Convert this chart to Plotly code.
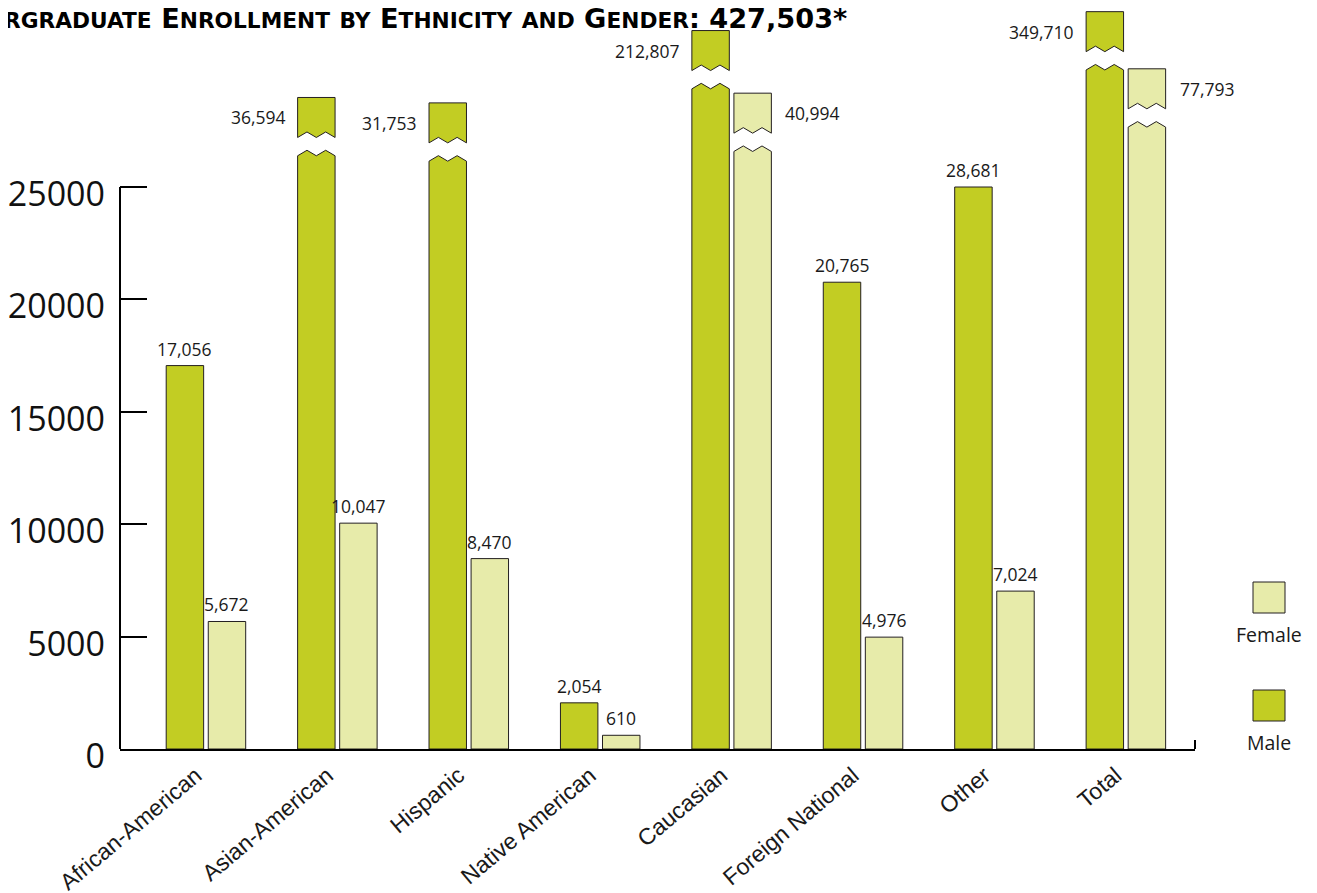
import math
import plotly.graph_objects as go

# ---------------- data ----------------
categories = ["African-American", "Asian-American", "Hispanic", "Native American",
              "Caucasian", "Foreign National", "Other", "Total"]
male_values = [17056, 36594, 31753, 2054, 212807, 20765, 28681, 349710]
female_values = [5672, 10047, 8470, 610, 40994, 4976, 7024, 77793]
y_tick_values = [0, 5000, 10000, 15000, 20000, 25000]
title_total = 427503

# ---------------- scale / style constants ----------------
AXIS_TOP = 25000        # continuous axis ends here
BREAK_MIN = 30000       # values above this get a broken bar
Y_MAX = 32963
BREAK_A = 745           # broken part: log compression above the axis top
BREAK_B = 3894
GAP = 814               # gap between the two pieces of a broken bar (axis units)
CAP = 1779              # height of the top piece
AMP = 245               # zig-zag amplitude

MALE_COLOR = "#C2CD23"
FEMALE_COLOR = "#E7EBAA"
EDGE = "#231F20"

BAR_W = 0.285
INNER = 0.0175
MALE_OFF = -INNER - BAR_W
FEMALE_OFF = INNER

PAGE = 8                # page margin of the html body
W, H = 1317, 893
ML, MT = 112, 0
PW, PH = 1075, 741
MR, MB = W - ML - PW, H - MT - PH


def px_x(px):
    return (px - PAGE - ML) / PW


def px_y(py):
    return (PH - (py - PAGE - MT)) / PH


def shown(v):
    if v <= AXIS_TOP:
        return v, False
    if v < BREAK_MIN:
        return AXIS_TOP, False
    return AXIS_TOP + BREAK_A + BREAK_B * math.log10(v / AXIS_TOP), True


fig = go.Figure()
annotations = []
label_font = dict(family="Open Sans", size=17.5, color="#1a1a1a")

for values, off, color, side in [(male_values, MALE_OFF, MALE_COLOR, "left"),
                                 (female_values, FEMALE_OFF, FEMALE_COLOR, "right")]:
    bar_y = []
    px, py = [], []
    for i, v in enumerate(values):
        h, broken = shown(v)
        xl = i + off
        xr = xl + BAR_W
        if not broken:
            bar_y.append(h)
            annotations.append(dict(x=xl + BAR_W / 2, y=h, xref="x", yref="y",
                                    text=f"{v:,}", showarrow=False, yanchor="bottom",
                                    yshift=3, font=label_font))
        else:
            bar_y.append(None)
            q = BAR_W / 4
            # lower piece with zig-zag top
            px += [xl, xl, xl + q, xl + 2 * q, xl + 3 * q, xr, xr, xl, None]
            py += [0, h, h + AMP, h, h + AMP, h, 0, 0, None]
            # top piece with zig-zag bottom
            c = h + GAP
            px += [xl, xl, xr, xr, xr - q, xl + 2 * q, xl + q, xl, None]
            py += [c, c + CAP, c + CAP, c, c + AMP, c, c + AMP, c, None]
            if side == "left":
                annotations.append(dict(x=xl, y=c + CAP / 2, xref="x", yref="y",
                                        text=f"{v:,}", showarrow=False, xanchor="right",
                                        xshift=-10, font=label_font))
            else:
                annotations.append(dict(x=xr, y=c + CAP / 2, xref="x", yref="y",
                                        text=f"{v:,}", showarrow=False, xanchor="left",
                                        xshift=12, font=label_font))
    fig.add_trace(go.Bar(x=list(range(len(categories))), y=bar_y, offset=off, width=BAR_W,
                         marker=dict(color=color, line=dict(color=EDGE, width=1)),
                         hoverinfo="skip"))
    fig.add_trace(go.Scatter(x=px, y=py, mode="lines", fill="toself", fillcolor=color,
                             line=dict(color=EDGE, width=1), hoverinfo="skip"))

# title (small caps, partly cut at the left edge as in the source)
sc = lambda s: f"<span style='font-size:21.7px'>{s}</span>"
title_text = (f"U{sc('NDERGRADUATE')} E{sc('NROLLMENT')} {sc('BY')} E{sc('THNICITY')} "
              f"{sc('AND')} G{sc('ENDER')}: {title_total:,}*")
annotations.append(dict(x=px_x(849), y=px_y(18), xref="paper", yref="paper",
                        text=title_text, showarrow=False, xanchor="right", yanchor="middle",
                        font=dict(family="DejaVu Sans", size=27.2, color="black", weight="bold")))

# manual legend (symbol above text)
legend_font = dict(family="Open Sans", size=19.5, color="#1a1a1a")
shapes = []
for name, color, top in [("Female", FEMALE_COLOR, 582), ("Male", MALE_COLOR, 690)]:
    shapes.append(dict(type="rect", xref="paper", yref="paper",
                       x0=px_x(1253), x1=px_x(1285), y0=px_y(top + 31), y1=px_y(top),
                       fillcolor=color, line=dict(color=EDGE, width=1)))
    annotations.append(dict(x=px_x(1269), y=px_y(top + 52), xref="paper", yref="paper",
                            text=name, showarrow=False, xanchor="center", yanchor="middle",
                            font=legend_font))

# y axis line only up to the axis top, and end tick of the x axis
shapes.append(dict(type="line", xref="paper", yref="y", x0=0, x1=0, y0=0, y1=AXIS_TOP,
                   line=dict(color="black", width=2)))
shapes.append(dict(type="line", xref="paper", yref="y", x0=1, x1=1, y0=0, y1=400,
                   line=dict(color="black", width=2)))

fig.update_layout(
    width=W, height=H,
    margin=dict(l=ML, r=MR, t=MT, b=MB),
    paper_bgcolor="white", plot_bgcolor="white",
    showlegend=False, barmode="overlay",
    annotations=annotations, shapes=shapes,
    xaxis=dict(range=[-0.654, 7.526], tickvals=list(range(len(categories))),
               ticktext=categories, tickangle=-40, showgrid=False, zeroline=False,
               showline=True, linecolor="black", linewidth=2, ticks="",
               ticklabelstandoff=2, ticklabelshift=-10,
               tickfont=dict(family="Liberation Sans", size=23, color="#1a1a1a")),
    yaxis=dict(range=[0, Y_MAX], tickvals=y_tick_values, tickformat="d",
               showgrid=False, zeroline=False, showline=False,
               ticks="inside", ticklen=27, tickwidth=2, tickcolor="black",
               ticklabelshift=7, ticklabelstandoff=14,
               tickfont=dict(family="Open Sans", size=34, color="#111")),
)

fig.write_html("out.html")
